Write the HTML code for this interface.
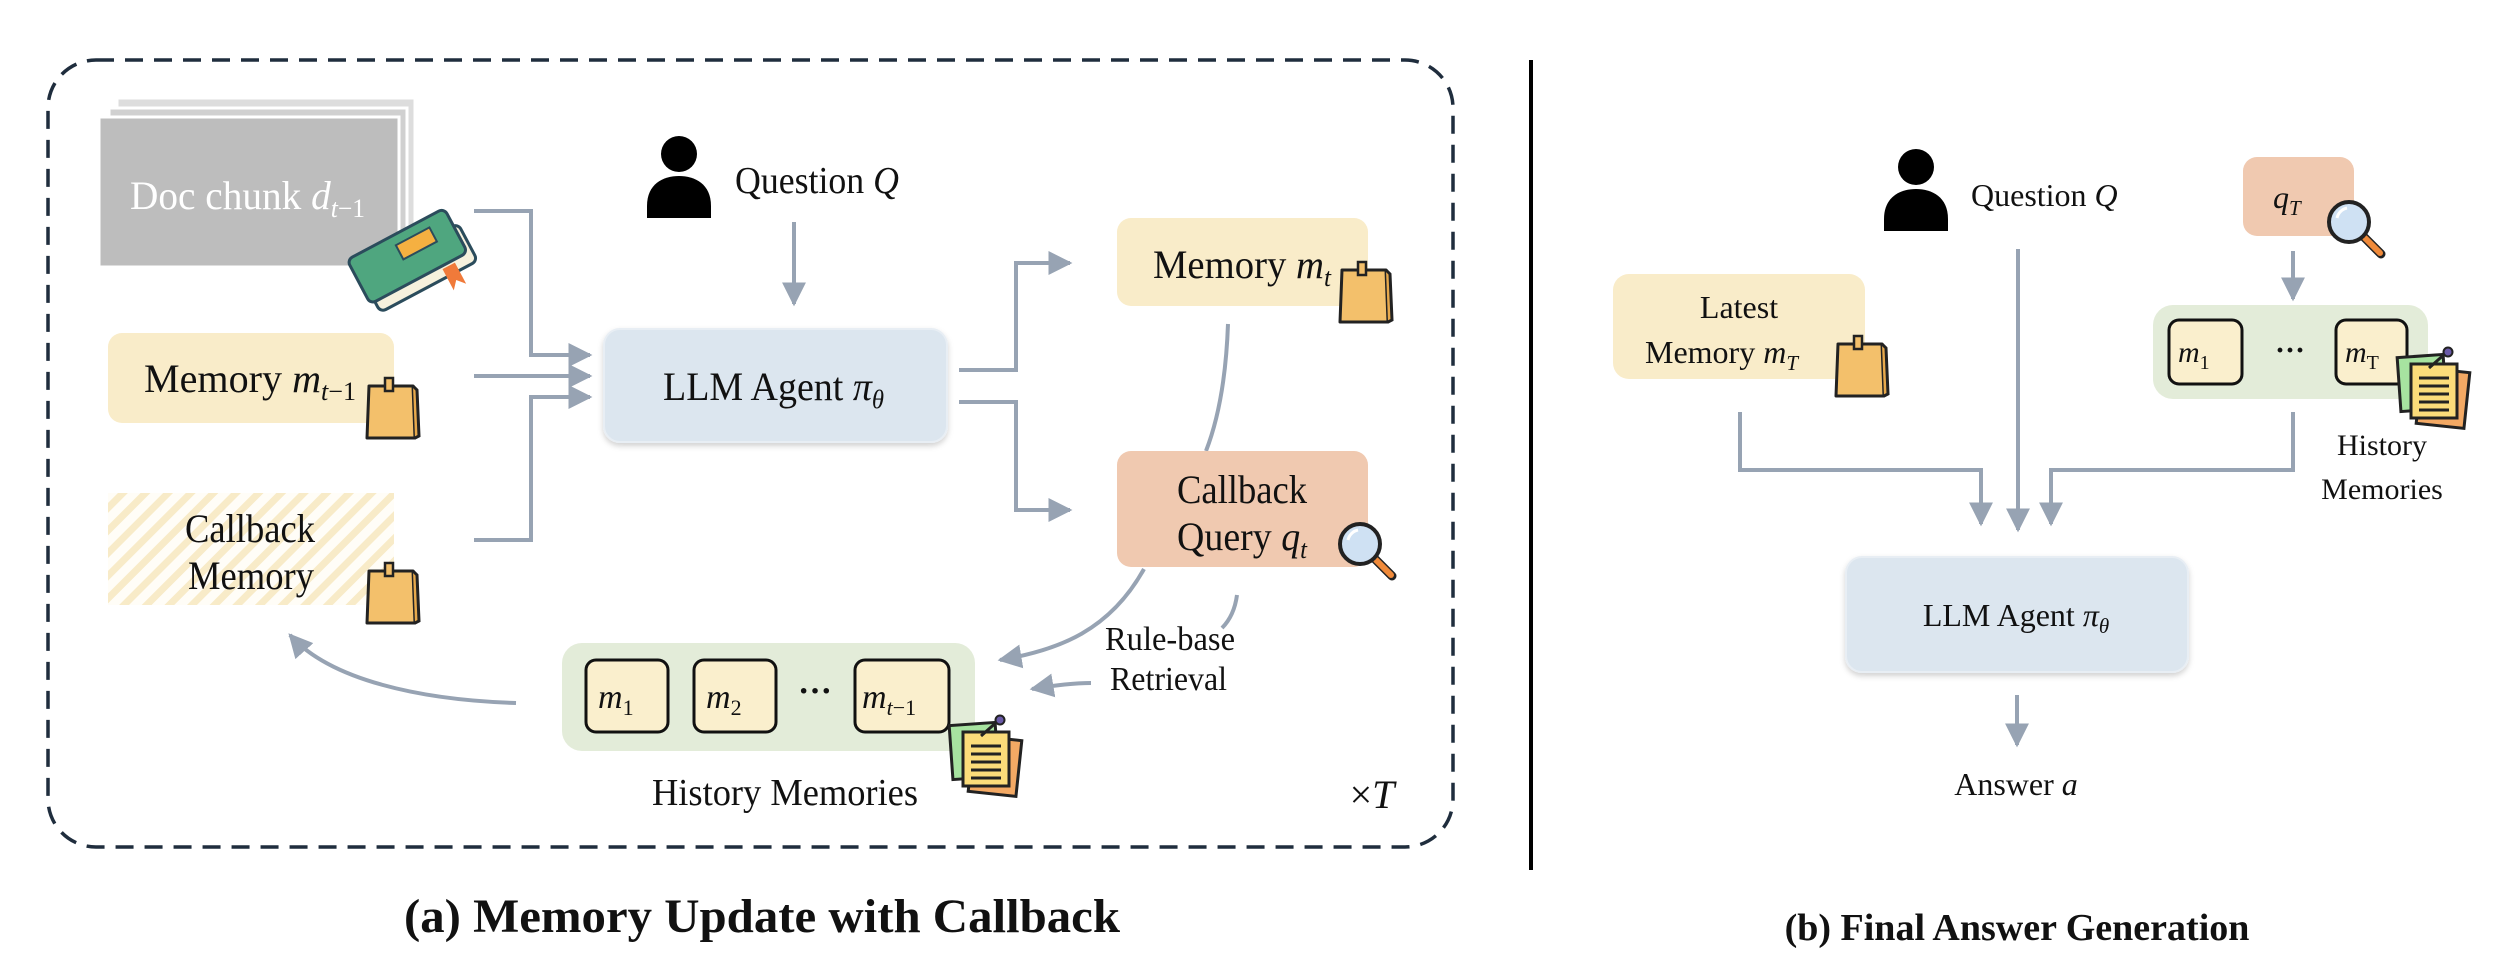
<!DOCTYPE html>
<html><head><meta charset="utf-8"><style>
html,body{margin:0;padding:0;background:#fff;}
svg{display:block;}
text{font-family:"Liberation Serif",serif;fill:#111;}
</style></head><body>
<svg width="2518" height="966" viewBox="0 0 2518 966" xmlns="http://www.w3.org/2000/svg">
<defs>
<marker id="ah" viewBox="0 0 10 10" refX="9" refY="5" markerWidth="6" markerHeight="6" orient="auto" markerUnits="strokeWidth">
<path d="M0,0 L10,5 L0,10 z" fill="#97a3b3"/></marker>
<pattern id="hatch" width="16" height="16" patternUnits="userSpaceOnUse" patternTransform="rotate(45)">
<rect width="16" height="16" fill="#fffdf7"/><rect width="7" height="16" fill="#f8ebc8"/></pattern>
<g id="sticky">
<path d="M2,8 L46,8 L48,60 L0,60 z" fill="#f3c06b" stroke="#222" stroke-width="3" stroke-linejoin="round"/>
<path d="M46,8 L50,12 L52,58 L48,60" fill="#e7a94c" stroke="#222" stroke-width="3"/>
<rect x="18" y="0" width="8" height="13" fill="#f3c06b" stroke="#222" stroke-width="2.5"/>
</g>
<g id="mag">
<line x1="38" y1="38" x2="56" y2="56" stroke="#222" stroke-width="9" stroke-linecap="round"/>
<line x1="40" y1="40" x2="55" y2="55" stroke="#f08a3a" stroke-width="6" stroke-linecap="round"/>
<circle cx="24" cy="24" r="20" fill="#cfe1f3" stroke="#222" stroke-width="4"/>
<path d="M12,20 A13,13 0 0 1 22,10" fill="none" stroke="#fff" stroke-width="3"/>
</g>
<g id="papers">
<rect x="20" y="18" width="48" height="56" fill="#f3a964" stroke="#222" stroke-width="3" transform="rotate(6 44 46)"/>
<rect x="0" y="4" width="46" height="54" fill="#a7e3a0" stroke="#222" stroke-width="3" transform="rotate(-4 23 31)"/>
<rect x="12" y="12" width="46" height="54" fill="#fbdc7a" stroke="#222" stroke-width="3"/>
<g stroke="#222" stroke-width="3"><line x1="20" y1="26" x2="50" y2="26"/><line x1="20" y1="34" x2="50" y2="34"/><line x1="20" y1="42" x2="50" y2="42"/><line x1="20" y1="50" x2="50" y2="50"/><line x1="20" y1="58" x2="50" y2="58"/>
<line x1="30" y1="16" x2="48" y2="0"/></g>
<circle cx="49" cy="0" r="4.5" fill="#6a5aa8" stroke="#222" stroke-width="2"/>
</g>
<g id="person">
<circle cx="32" cy="18" r="18" fill="#000"/>
<path d="M0,82 L0,70 C0,48 16,40 32,40 C48,40 64,48 64,70 L64,82 z" fill="#000"/>
</g>
<filter id="sh" x="-10%" y="-10%" width="120%" height="130%"><feDropShadow dx="0" dy="3" stdDeviation="3" flood-color="#000" flood-opacity="0.18"/></filter>
</defs>

<!-- Panel a frame -->
<rect x="48" y="60" width="1405" height="787" rx="48" fill="none" stroke="#1f2d3d" stroke-width="3.5" stroke-dasharray="18 11"/>
<line x1="1531" y1="60" x2="1531" y2="870" stroke="#000" stroke-width="4"/>

<!-- Doc chunk stack -->
<rect x="117" y="98" width="298" height="150" fill="#ddd" stroke="#fff" stroke-width="3"/>
<rect x="109" y="108" width="298" height="150" fill="#d0d0d0" stroke="#fff" stroke-width="3"/>
<rect x="99" y="117" width="300" height="150" fill="#bdbdbd" stroke="#fff" stroke-width="3"/>
<text x="130" y="209" font-size="40" textLength="235" lengthAdjust="spacingAndGlyphs" style="fill:#fff">Doc chunk <tspan font-style="italic">d</tspan><tspan font-style="italic" font-size="26" dy="8">t</tspan><tspan font-size="26">−1</tspan></text>
<!-- book -->
<g transform="translate(352,225) rotate(-28 60 40)">
<rect x="10" y="25" width="110" height="42" rx="6" fill="#f6f1dd" stroke="#2b4c5c" stroke-width="3"/>
<rect x="5" y="5" width="110" height="50" rx="6" fill="#4fa67f" stroke="#2b4c5c" stroke-width="3"/>
<rect x="55" y="15" width="38" height="16" fill="#f5b041" stroke="#2b4c5c" stroke-width="2"/>
<path d="M85,58 L85,82 L92,74 L99,82 L99,58" fill="#f07a3a"/>
</g>

<!-- Memory m_{t-1} -->
<rect x="108" y="333" width="286" height="90" rx="14" fill="#f9ecc9"/>
<text x="144" y="392" font-size="40" textLength="212" lengthAdjust="spacingAndGlyphs">Memory <tspan font-style="italic">m</tspan><tspan font-style="italic" font-size="26" dy="8">t</tspan><tspan font-size="26">−1</tspan></text>
<use href="#sticky" x="367" y="378"/>

<!-- Callback Memory hatched -->
<rect x="108" y="493" width="286" height="112" fill="url(#hatch)"/>
<text x="185" y="542" font-size="40" textLength="130" lengthAdjust="spacingAndGlyphs">Callback</text>
<text x="188" y="589" font-size="40" textLength="126" lengthAdjust="spacingAndGlyphs">Memory</text>
<use href="#sticky" x="367" y="563"/>

<!-- Question -->
<use href="#person" x="647" y="136"/>
<text x="735" y="193" font-size="38" textLength="164" lengthAdjust="spacingAndGlyphs">Question <tspan font-style="italic">Q</tspan></text>
<line x1="794" y1="222" x2="794" y2="304" stroke="#97a3b3" stroke-width="4" marker-end="url(#ah)"/>

<!-- LLM agent a -->
<rect x="604" y="329" width="343" height="113" rx="16" fill="#dce6ef" stroke="#e8eef4" stroke-width="2" filter="url(#sh)"/>
<text x="663" y="400" font-size="40" textLength="221" lengthAdjust="spacingAndGlyphs">LLM Agent <tspan font-style="italic">π</tspan><tspan font-style="italic" font-size="26" dy="8">θ</tspan></text>

<!-- connectors -->
<g fill="none" stroke="#97a3b3" stroke-width="4">
<polyline points="474,211 531,211 531,355 590,355" marker-end="url(#ah)"/>
<line x1="474" y1="376" x2="590" y2="376" marker-end="url(#ah)"/>
<polyline points="474,540 531,540 531,397 590,397" marker-end="url(#ah)"/>
<polyline points="959,370 1016,370 1016,263 1070,263" marker-end="url(#ah)"/>
<polyline points="959,402 1016,402 1016,510 1070,510" marker-end="url(#ah)"/>
<path d="M1228,324 C1226,380 1218,420 1206,451"/>
<path d="M1144,569 C1110,630 1060,650 1000,660" marker-end="url(#ah)"/>
<path d="M1237,595 C1235,610 1230,620 1222,628"/>
<path d="M1091,683 C1070,683 1050,686 1032,689" marker-end="url(#ah)"/>
<path d="M516,703 C420,700 330,680 290,635" marker-end="url(#ah)"/>
</g>

<!-- Memory m_t -->
<rect x="1117" y="218" width="251" height="88" rx="14" fill="#f9ecc9"/>
<text x="1153" y="278" font-size="40" textLength="178" lengthAdjust="spacingAndGlyphs">Memory <tspan font-style="italic">m</tspan><tspan font-style="italic" font-size="26" dy="8">t</tspan></text>
<use href="#sticky" x="1340" y="262"/>

<!-- Callback query -->
<rect x="1117" y="451" width="251" height="116" rx="14" fill="#f0c9b0"/>
<text x="1177" y="503" font-size="40" textLength="130" lengthAdjust="spacingAndGlyphs">Callback</text>
<text x="1177" y="550" font-size="40" textLength="130" lengthAdjust="spacingAndGlyphs">Query <tspan font-style="italic">q</tspan><tspan font-style="italic" font-size="26" dy="8">t</tspan></text>
<use href="#mag" x="1336" y="520"/>

<text x="1105" y="650" font-size="34" textLength="130" lengthAdjust="spacingAndGlyphs">Rule-base</text>
<text x="1110" y="690" font-size="34" textLength="117" lengthAdjust="spacingAndGlyphs">Retrieval</text>

<!-- History memories a -->
<rect x="562" y="643" width="413" height="108" rx="20" fill="#e3ecd9"/>
<g fill="#faefcd" stroke="#111" stroke-width="3">
<rect x="586" y="660" width="82" height="72" rx="10"/>
<rect x="694" y="660" width="82" height="72" rx="10"/>
<rect x="855" y="660" width="94" height="72" rx="10"/>
</g>
<g font-size="34">
<text x="598" y="708"><tspan font-style="italic">m</tspan><tspan font-size="22" dy="7">1</tspan></text>
<text x="706" y="708"><tspan font-style="italic">m</tspan><tspan font-size="22" dy="7">2</tspan></text>
<text x="862" y="708"><tspan font-style="italic">m</tspan><tspan font-style="italic" font-size="22" dy="7">t</tspan><tspan font-size="22">−1</tspan></text>
</g>
<text x="815" y="702" font-size="34" font-weight="bold" text-anchor="middle">···</text>
<use href="#papers" x="951" y="720"/>
<text x="652" y="805" font-size="38" textLength="266" lengthAdjust="spacingAndGlyphs">History Memories</text>
<text x="1372" y="808" font-size="40" text-anchor="middle">×<tspan font-style="italic">T</tspan></text>

<text x="404" y="932" font-size="48" font-weight="bold" textLength="716" lengthAdjust="spacingAndGlyphs">(a) Memory Update with Callback</text>

<!-- Panel b -->
<use href="#person" x="1884" y="149"/>
<text x="1971" y="206" font-size="32">Question <tspan font-style="italic">Q</tspan></text>

<rect x="2243" y="157" width="111" height="79" rx="14" fill="#f0c9b0"/>
<text x="2273" y="208" font-size="32" font-style="italic">q<tspan font-size="21" dy="7">T</tspan></text>
<use href="#mag" x="2325" y="198"/>

<rect x="1613" y="274" width="252" height="105" rx="16" fill="#f9ecc9"/>
<text x="1739" y="318" font-size="32" text-anchor="middle">Latest</text>
<text x="1645" y="363" font-size="32">Memory <tspan font-style="italic">m</tspan><tspan font-style="italic" font-size="21" dy="7">T</tspan></text>
<use href="#sticky" x="1836" y="336"/>

<rect x="2153" y="305" width="275" height="94" rx="20" fill="#e3ecd9"/>
<g fill="#faefcd" stroke="#111" stroke-width="3">
<rect x="2169" y="320" width="73" height="64" rx="10"/>
<rect x="2336" y="320" width="71" height="64" rx="10"/>
</g>
<text x="2178" y="362" font-size="30"><tspan font-style="italic">m</tspan><tspan font-size="20" dy="7">1</tspan></text>
<text x="2345" y="362" font-size="30"><tspan font-style="italic">m</tspan><tspan font-size="20" dy="7">T</tspan></text>
<text x="2290" y="360" font-size="30" font-weight="bold" text-anchor="middle">···</text>
<use href="#papers" x="2399" y="352"/>
<text x="2382" y="455" font-size="30" text-anchor="middle">History</text>
<text x="2382" y="499" font-size="30" text-anchor="middle">Memories</text>

<g fill="none" stroke="#97a3b3" stroke-width="4">
<line x1="2018" y1="249" x2="2018" y2="530" marker-end="url(#ah)"/>
<line x1="2293" y1="251" x2="2293" y2="299" marker-end="url(#ah)"/>
<polyline points="1740,412 1740,470 1981,470 1981,524" marker-end="url(#ah)"/>
<polyline points="2293,412 2293,470 2051,470 2051,524" marker-end="url(#ah)"/>
<line x1="2017" y1="695" x2="2017" y2="745" marker-end="url(#ah)"/>
</g>

<rect x="1846" y="557" width="342" height="115" rx="16" fill="#dce6ef" stroke="#e8eef4" stroke-width="2" filter="url(#sh)"/>
<text x="2016" y="626" font-size="32" text-anchor="middle">LLM Agent <tspan font-style="italic">π</tspan><tspan font-style="italic" font-size="21" dy="7">θ</tspan></text>
<text x="2016" y="795" font-size="32" text-anchor="middle">Answer <tspan font-style="italic">a</tspan></text>

<text x="2017" y="940" font-size="38" font-weight="bold" text-anchor="middle">(b) Final Answer Generation</text>
</svg>
</body></html>
